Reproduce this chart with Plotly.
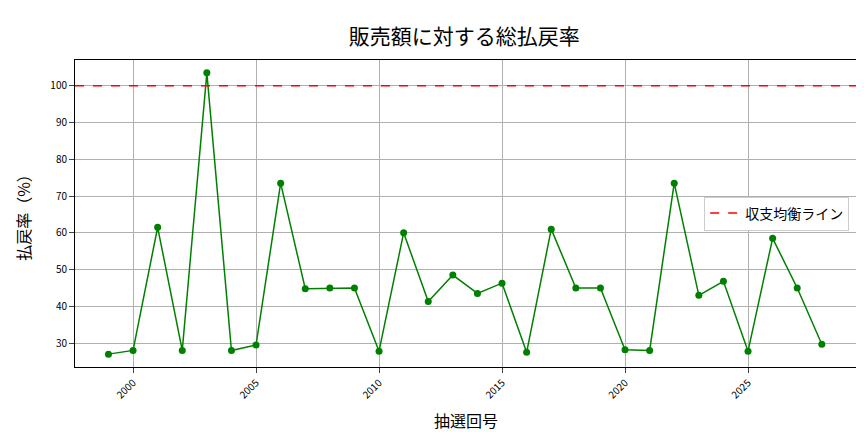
import plotly.graph_objects as go

years = list(range(1999, 2029))
rates = [27, 28, 61.5, 28, 103.5, 28, 29.5, 73.5, 44.8, 45, 45, 27.8, 60, 41.3, 48.5,
         43.5, 46.3, 27.5, 61, 45, 45, 28.2, 28, 73.5, 43, 46.8, 27.8, 58.5, 45, 29.7]
breakeven = 100

font = "Noto Sans CJK JP"
fig = go.Figure()
fig.add_trace(go.Scatter(x=years, y=rates, mode="lines+markers", showlegend=False,
                         line=dict(color="green", width=1.5), marker=dict(color="green", size=7)))
fig.add_trace(go.Scatter(x=[1997.64, 2029.43], y=[breakeven, breakeven], mode="lines",
                         name="収支均衡ライン", line=dict(color="red", dash="dash", width=1.5)))
fig.update_layout(
    width=864, height=432, plot_bgcolor="white", paper_bgcolor="white",
    margin=dict(l=67, r=15, t=52, b=73, autoexpand=False),
    font=dict(family=font, color="black"),
    title=dict(text="販売額に対する総払戻率", x=0.528, xanchor="center", y=0.95, font=dict(size=21)),
    legend=dict(x=0.99, y=0.5, xanchor="right", yanchor="middle", bordercolor="#ccc", borderwidth=1,
                font=dict(size=14)),
    xaxis=dict(title=dict(text="抽選回号", font=dict(size=16)), range=[1997.64, 2029.43], automargin=False,
               tickvals=[2000, 2005, 2010, 2015, 2020, 2025], tickangle=-45, tickfont=dict(size=10),
               showgrid=True, gridcolor="#b0b0b0", showline=True, mirror=True, linecolor="black",
               ticks="outside", zeroline=False),
    yaxis=dict(title=dict(text="払戻率（%）", font=dict(size=16)), range=[23.5, 107], automargin=False,
               tickvals=[30, 40, 50, 60, 70, 80, 90, 100], tickfont=dict(size=10),
               showgrid=True, gridcolor="#b0b0b0", showline=True, mirror=True, linecolor="black",
               ticks="outside", zeroline=False),
)
fig.write_html("out.html")
